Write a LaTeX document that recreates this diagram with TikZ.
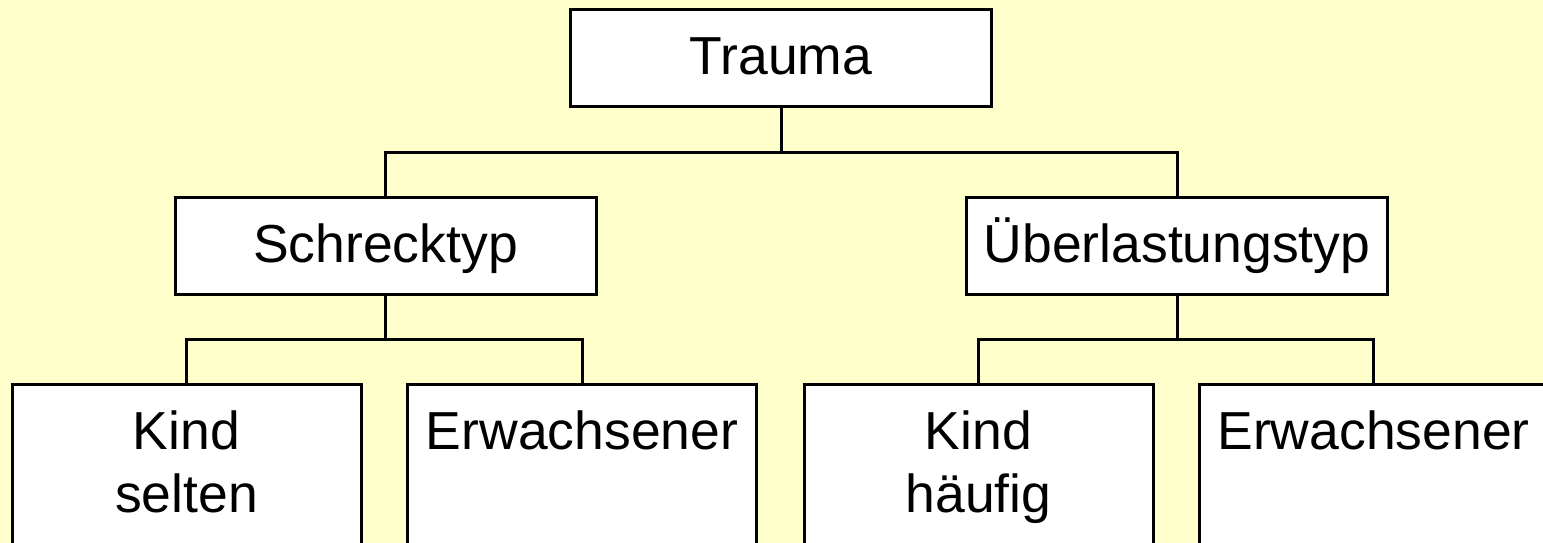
\documentclass[tikz,border=0pt]{standalone}
\usepackage{fontspec}
\setmainfont{Liberation Sans}
\definecolor{bgyellow}{HTML}{FFFFCC}
\begin{document}
\begin{tikzpicture}[x=1pt,y=-1pt,
  box/.style={draw=black, fill=white, line width=3pt, inner sep=0pt, rectangle},
  midbox/.style={box, minimum width=421pt, minimum height=97pt,
    font=\fontsize{53.5}{63}\selectfont, text height=34pt, text depth=0pt},
  lowbox/.style={box, minimum width=349pt, minimum height=220pt, anchor=north},
  txt/.style={inner sep=0pt, font=\fontsize{53.5}{63}\selectfont, align=center, anchor=base},
  conn/.style={draw=black, line width=3pt}]
\useasboundingbox (0,0) rectangle (1543,543);
\fill[bgyellow] (0,0) rectangle (1543,543);
\clip (0,0) rectangle (1543,543);

\node[midbox, minimum height=96pt] (trauma) at (781,58) {Trauma};
\node[midbox] (schreck) at (385.5,245.5) {Schrecktyp};
\node[midbox] (ueber) at (1177,245.5) {Überlastungstyp};

\node[lowbox] (k1) at (186.5,383) {};
\node[lowbox] (e1) at (582,383) {};
\node[lowbox] (k2) at (978.5,383) {};
\node[lowbox] (e2) at (1373.5,383) {};

\node[txt] (k1t) at (186.5,512) {Kind\\selten};
\node[txt] (e1t) at (582,449) {Erwachsener};
\node[txt] (k2t) at (978.5,512) {Kind\\häufig};
\node[txt] (e2t) at (1373.5,449) {Erwachsener};

\coordinate (j1) at (781,152);
\coordinate (j2) at (385.5,339);
\coordinate (j3) at (1177,339);

\draw[conn] (trauma.south) -- (j1);
\draw[conn] (schreck.north) |- (j1) -| (ueber.north);
\draw[conn] (schreck.south) -- (j2);
\draw[conn] (k1.north) |- (j2) -| (e1.north);
\draw[conn] (ueber.south) -- (j3);
\draw[conn] (k2.north) |- (j3) -| (e2.north);
\end{tikzpicture}
\end{document}
